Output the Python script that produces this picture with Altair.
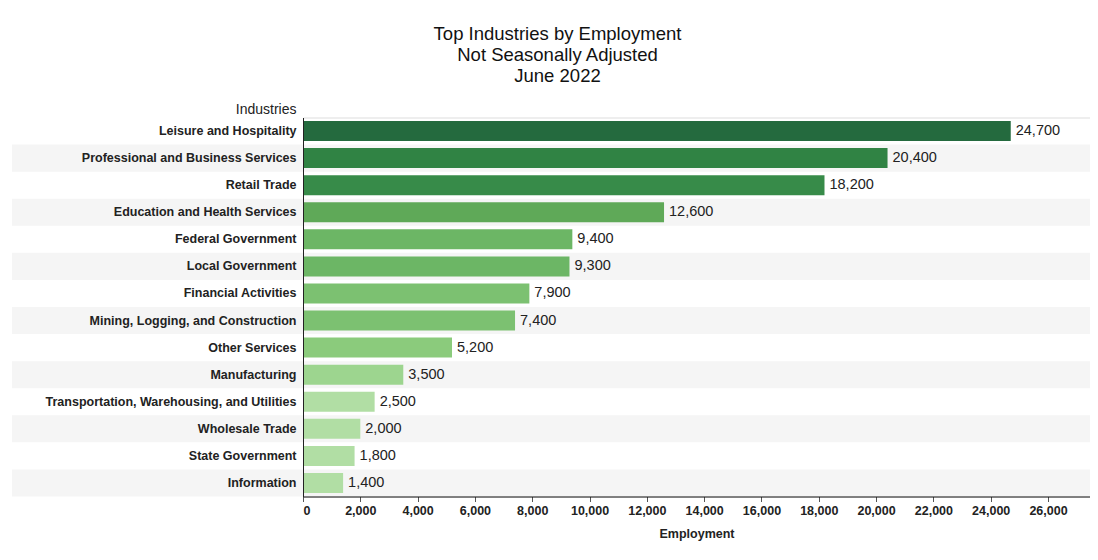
import altair as alt
import pandas as pd

industries = [
    "Leisure and Hospitality",
    "Professional and Business Services",
    "Retail Trade",
    "Education and Health Services",
    "Federal Government",
    "Local Government",
    "Financial Activities",
    "Mining, Logging, and Construction",
    "Other Services",
    "Manufacturing",
    "Transportation, Warehousing, and Utilities",
    "Wholesale Trade",
    "State Government",
    "Information",
]
employment = [24700, 20400, 18200, 12600, 9400, 9300, 7900, 7400, 5200, 3500, 2500, 2000, 1800, 1400]
tick_values = [0, 2000, 4000, 6000, 8000, 10000, 12000, 14000, 16000, 18000, 20000, 22000, 24000, 26000]
title_lines = ["Top Industries by Employment", "Not Seasonally Adjusted", "June 2022"]

bar_colors = [
    "#246a3e", "#308344", "#378b49", "#5fa958", "#6cb665", "#6cb665", "#7cc171",
    "#7cc171", "#8bcb7c", "#9dd58f", "#b1dea4", "#b1dea4", "#b1dea4", "#b1dea4",
]

df = pd.DataFrame({"Industry": industries, "Employment": employment})
df["row"] = range(len(df))

FONT = "Liberation Sans"
W = 787
H = 379
STEP = H / len(industries)

y_enc = alt.Y(
    "Industry:N",
    sort=industries,
    scale=alt.Scale(paddingInner=0.26, paddingOuter=0.13),
    axis=alt.Axis(
        title="Industries",
        titleAngle=0,
        titleAlign="right",
        titleBaseline="alphabetic",
        titleX=-7,
        titleY=-4,
        titleFontSize=14,
        titleFontWeight="normal",
        titleColor="#222222",
        titleFont=FONT,
        labelFont=FONT,
        labelFontSize=12.5,
        labelFontWeight="bold",
        labelColor="#222222",
        labelPadding=7,
        labelLimit=400,
        ticks=False,
        domain=True,
        domainColor="#222222",
        zindex=1,
    ),
)

x_enc = alt.X(
    "Employment:Q",
    scale=alt.Scale(domain=[0, 27466], nice=False),
    axis=alt.Axis(
        values=tick_values,
        format=",.0f",
        title="Employment",
        titleFont=FONT,
        titleFontSize=12.5,
        titleFontWeight="bold",
        titleColor="#222222",
        titlePadding=10,
        labelFont=FONT,
        labelFontSize=12.5,
        labelFontWeight="bold",
        labelColor="#222222",
        labelPadding=3,
        tickSize=5,
        tickColor="#555555",
        domainColor="#111111",
        grid=False,
        zindex=1,
    ),
)

stripes = (
    alt.Chart(df)
    .transform_filter("datum.row % 2 == 1")
    .mark_bar(height=STEP, color="#f5f5f5")
    .encode(y=y_enc, x=alt.value(-291), x2=alt.value(W))
)

bars = alt.Chart(df).mark_bar().encode(
    y=y_enc,
    x=x_enc,
    color=alt.Color(
        "Industry:N",
        scale=alt.Scale(domain=industries, range=bar_colors),
        legend=None,
    ),
)

labels = alt.Chart(df).mark_text(
    align="left", baseline="middle", dx=5, font=FONT, fontSize=14.5, color="#222222"
).encode(
    y=y_enc,
    x=x_enc,
    text=alt.Text("Employment:Q", format=","),
)

chart = (
    alt.layer(stripes, bars, labels)
    .properties(
        width=W,
        height=H,
        title=alt.TitleParams(
            text=title_lines,
            anchor="middle",
            frame="group",
            dx=-139,
            offset=17,
            font=FONT,
            fontSize=18.5,
            fontWeight="normal",
            lineHeight=21,
            color="#111111",
        ),
        autosize=alt.AutoSizeParams(type="none"),
        padding={"left": 295, "top": 109.5, "right": 0, "bottom": 55},
    )
    .configure_view(stroke=None)
    .configure(background="white")
)

chart.save("out.html", embed_options={"renderer": "svg", "actions": False})
